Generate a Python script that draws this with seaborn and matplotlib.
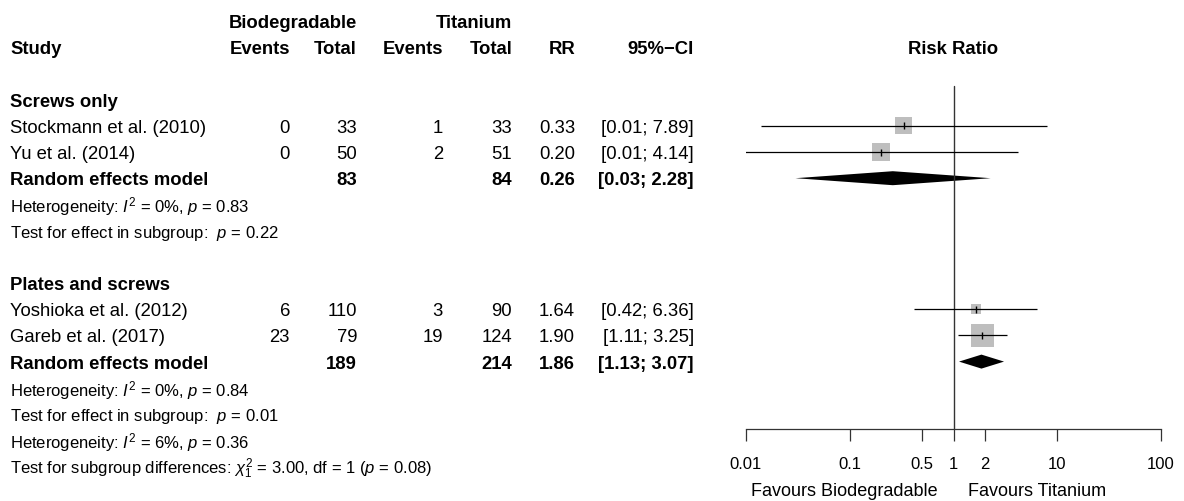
import numpy as np
import pandas as pd
import matplotlib
matplotlib.use("Agg")
import matplotlib.pyplot as plt
import seaborn as sns

# ---------------- data ----------------
studies = ["Stockmann et al. (2010)", "Yu et al. (2014)",
           "Yoshioka et al. (2012)", "Gareb et al. (2017)"]
study_group = [0, 0, 1, 1]
ev_bio = [0, 0, 6, 23]
n_bio = [33, 50, 110, 79]
ev_ti = [1, 2, 3, 19]
n_ti = [33, 51, 90, 124]
rr = [0.33, 0.20, 1.64, 1.90]
ci_lo = [0.014, 0.0097, 0.42, 1.11]
ci_hi = [7.89, 4.14, 6.36, 3.25]
weight = [46.5, 53.5, 17.0, 83.0]  # % weight within subgroup (square size)

groups = ["Screws only", "Plates and screws"]
pool_n_bio = [83, 189]
pool_n_ti = [84, 214]
pool_rr = [0.26, 1.86]
pool_lo = [0.03, 1.13]
pool_hi = [2.28, 3.07]
het_i2 = [0, 0]
het_p = [0.83, 0.84]
eff_p = [0.22, 0.01]

overall_i2 = 6
overall_p = 0.36
sub_chi2 = 3.00
sub_df = 1
sub_p = 0.08

xticks = [0.01, 0.1, 0.5, 1, 2, 10, 100]
xticklabels = ["0.01", "0.1", "0.5", "1", "2", "10", "100"]
label_left = "Favours Biodegradable"
label_right = "Favours Titanium"

# ---------------- style ----------------
sns.set_theme(style="white")
plt.rcParams["font.family"] = ["Liberation Sans", "DejaVu Sans"]
plt.rcParams["mathtext.fontset"] = "custom"
plt.rcParams["mathtext.rm"] = "Liberation Sans"
plt.rcParams["mathtext.it"] = "Liberation Sans:italic"
plt.rcParams["mathtext.bf"] = "Liberation Sans:bold"

W, H = 1184, 502
ROW0, DY = 22.0, 26.2
y_top = -ROW0 / DY
y_bot = (H - ROW0) / DY
FS = 13.3
FS_HET = 12
TXT_SHIFT = 1.5 / DY  # small downward shift of text baseline

fig = plt.figure(figsize=(W / 100, H / 100), dpi=100)
ax_t = fig.add_axes([0, 0, 1, 1])
ax_t.set_xlim(0, W)
ax_t.set_ylim(y_bot, y_top)
ax_t.axis("off")

ax_f = fig.add_axes([746 / W, 0, 415 / W, 1])
ax_f.set_facecolor("none")
ax_f.set_xscale("log")
ax_f.set_xlim(0.01, 100)
ax_f.set_ylim(y_bot, y_top)

# column positions (pixels, right-aligned)
X_STUDY = 10
X_EB, X_NB, X_ET, X_NT, X_RR, X_CI = 290, 357, 443, 512, 575, 694


def txt(x, r, s, ha="right", bold=False, fs=FS, shift=TXT_SHIFT):
    ax_t.text(x, r + shift, s, ha=ha, va="center", fontsize=fs,
              fontweight="bold" if bold else "normal", color="black")


# headers
txt(X_NB, 0, "Biodegradable", bold=True)
txt(X_NT, 0, "Titanium", bold=True)
txt(X_STUDY, 1, "Study", ha="left", bold=True)
for x, s in [(X_EB, "Events"), (X_NB, "Total"), (X_ET, "Events"),
             (X_NT, "Total"), (X_RR, "RR"), (X_CI, "95%\u2212CI")]:
    txt(x, 1, s, bold=True)
ax_f.text(1, 1 + TXT_SHIFT, "Risk Ratio", ha="center", va="center",
          fontsize=FS, fontweight="bold", color="black")

# layout rows
group_start = [3, 10]
study_rows = []
for g in range(len(groups)):
    r = group_start[g]
    txt(X_STUDY, r, groups[g], ha="left", bold=True)
    members = [i for i in range(len(studies)) if study_group[i] == g]
    for k, i in enumerate(members):
        rr_row = r + 1 + k
        study_rows.append(rr_row)
        txt(X_STUDY, rr_row, studies[i], ha="left")
        txt(X_EB, rr_row, f"{ev_bio[i]}")
        txt(X_NB, rr_row, f"{n_bio[i]}")
        txt(X_ET, rr_row, f"{ev_ti[i]}")
        txt(X_NT, rr_row, f"{n_ti[i]}")
        txt(X_RR, rr_row, f"{rr[i]:.2f}")
        txt(X_CI, rr_row, f"[{ci_lo[i]:.2f}; {ci_hi[i]:.2f}]")
    pr = r + 1 + len(members)
    txt(X_STUDY, pr, "Random effects model", ha="left", bold=True)
    txt(X_NB, pr, f"{pool_n_bio[g]}", bold=True)
    txt(X_NT, pr, f"{pool_n_ti[g]}", bold=True)
    txt(X_RR, pr, f"{pool_rr[g]:.2f}", bold=True)
    txt(X_CI, pr, f"[{pool_lo[g]:.2f}; {pool_hi[g]:.2f}]", bold=True)
    txt(X_STUDY, pr + 1,
        f"Heterogeneity: $I^2$ = {het_i2[g]}%, $p$ = {het_p[g]:.2f}",
        ha="left", fs=FS_HET)
    txt(X_STUDY, pr + 2,
        f"Test for effect in subgroup:  $p$ = {eff_p[g]:.2f}",
        ha="left", fs=FS_HET)
    # pooled diamond
    h = 7 / DY
    ax_f.fill([pool_lo[g], pool_rr[g], pool_hi[g], pool_rr[g]],
              [pr, pr - h, pr, pr + h], color="black", lw=0)

txt(X_STUDY, 16,
    f"Heterogeneity: $I^2$ = {overall_i2}%, $p$ = {overall_p:.2f}",
    ha="left", fs=FS_HET)
txt(X_STUDY, 17,
    f"Test for subgroup differences: $\\chi^2_{sub_df}$ = {sub_chi2:.2f}, "
    f"df = {sub_df} ($p$ = {sub_p:.2f})",
    ha="left", fs=FS_HET)

# study squares, CI lines
df = pd.DataFrame({"rr": rr, "row": study_rows, "w": weight})
side_pt = 2.47 * np.sqrt(df["w"].values) * 0.72
sns.scatterplot(data=df, x="rr", y="row", marker="s", s=side_pt ** 2,
                color="#bebebe", edgecolor="none", linewidth=0,
                legend=False, ax=ax_f, zorder=2)
ax_f.hlines(study_rows, ci_lo, ci_hi, color="black", lw=0.9, zorder=3)
ax_f.vlines(rr, np.array(study_rows) - 3.5 / DY,
            np.array(study_rows) + 3.5 / DY, color="black", lw=1.0, zorder=3)

axis_row = (430 - ROW0) / DY
ax_f.plot([1, 1], [(87 - ROW0) / DY, axis_row], color="#333333", lw=1.0,
          zorder=1)

# axis
for sp in ["top", "right", "left"]:
    ax_f.spines[sp].set_visible(False)
ax_f.spines["bottom"].set_position(("data", axis_row))
ax_f.spines["bottom"].set_color("#333333")
ax_f.spines["bottom"].set_linewidth(0.9)
ax_f.set_xticks(xticks)
ax_f.set_xticklabels(xticklabels)
ax_f.xaxis.set_minor_locator(matplotlib.ticker.NullLocator())
ax_f.tick_params(axis="x", bottom=True, direction="out", length=8.6,
                 width=0.9, color="#333333", pad=11, labelsize=12,
                 labelcolor="black")
ax_f.set_yticks([])
ax_f.set_xlabel("")
ax_f.set_ylabel("")

txt(938, 17.93, label_left, ha="right", fs=13, shift=0)
txt(968, 17.93, label_right, ha="left", fs=13, shift=0)

fig.savefig("out.png", dpi=100)
